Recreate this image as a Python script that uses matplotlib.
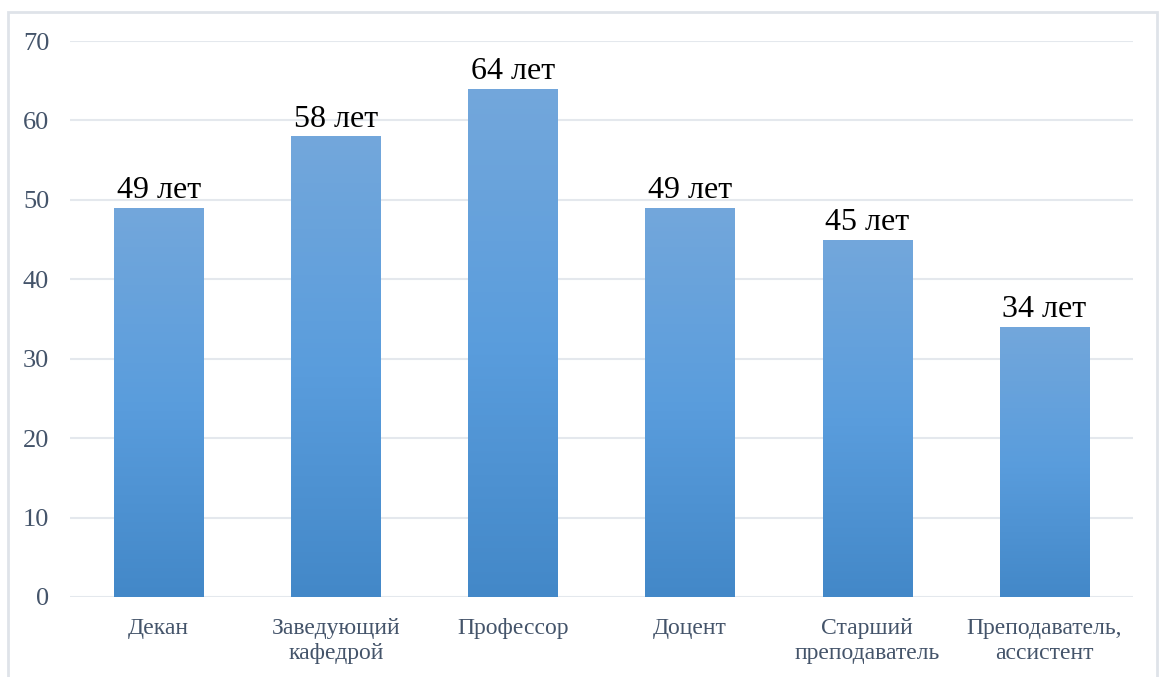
import matplotlib.pyplot as plt
import numpy as np
from matplotlib.colors import LinearSegmentedColormap
from matplotlib.patches import Rectangle

# средний возраст по должностям
positions = ['Декан', 'Заведующий\nкафедрой', 'Профессор', 'Доцент',
             'Старший\nпреподаватель', 'Преподаватель,\nассистент']
ages = [49, 58, 64, 49, 45, 34]
labels = ['49 лет', '58 лет', '64 лет', '49 лет', '45 лет', '34 лет']
yticks = [0, 10, 20, 30, 40, 50, 60, 70]

plt.rcParams['font.family'] = ['Liberation Serif', 'DejaVu Serif']

fig = plt.figure(figsize=(11.59, 6.77), dpi=100)
ax = fig.add_axes([0.0604, 0.1182, 0.9172, 0.8212])

# градиент для столбцов: сверху светлее, снизу темнее
grad_cmap = LinearSegmentedColormap.from_list(
    'bar_grad', ['#4388C8', '#5A9DDD', '#73A7DB'])
grad = np.linspace(0, 1, 256).reshape(-1, 1)

x = np.arange(len(positions))
bars = ax.bar(x, ages, width=0.505, color='none', edgecolor='none', zorder=2)
for b in bars:
    x0, w, h = b.get_x(), b.get_width(), b.get_height()
    img = ax.imshow(grad, cmap=grad_cmap, origin='lower', aspect='auto',
                    extent=[x0, x0 + w, 0, h], zorder=2)
    img.set_clip_path(b)

for xi, v, lab in zip(x, ages, labels):
    ax.annotate(lab, (xi, v), xytext=(0, 2), textcoords='offset points',
                ha='center', va='bottom', fontsize=23, color='black')

ax.set_xlim(-0.5, len(positions) - 0.5)
ax.set_ylim(0, 70)
ax.set_yticks(yticks)
ax.set_xticks(x)
ax.set_xticklabels(positions, linespacing=1.25)
ax.tick_params(axis='both', length=0, labelcolor='#44546A')
ax.tick_params(axis='x', pad=15, labelsize=17)
ax.tick_params(axis='y', pad=15, labelsize=19)
ax.grid(axis='y', color='#E4E8ED', linewidth=1.5, zorder=0)
ax.set_axisbelow(True)
for s in ax.spines.values():
    s.set_visible(False)

# рамка вокруг диаграммы
W, H = 1159, 677
fig.patches.append(Rectangle((8 / W, -0.05), 1149 / W, 1.05 - 12 / H,
                             transform=fig.transFigure, fill=False,
                             edgecolor='#DFE3E9', linewidth=2))

fig.savefig('out.png', dpi=100)
